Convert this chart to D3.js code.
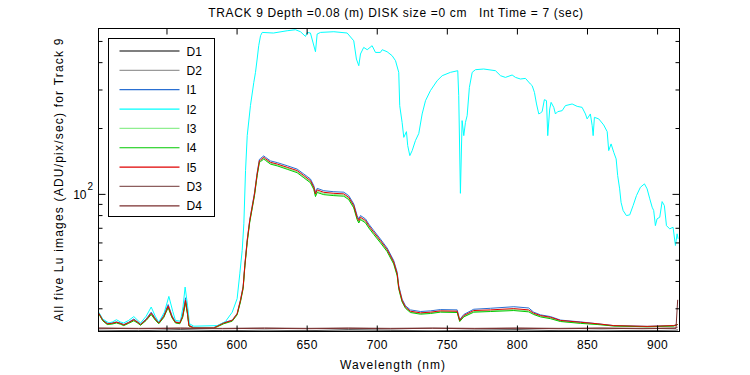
<!DOCTYPE html>
<html>
<head>
<meta charset="utf-8">
<script src="https://cdn.jsdelivr.net/npm/d3@7"></script>
<style>
  body { margin: 0; background: #fff; }
  svg text { font-family: "Liberation Sans", Arial, Helvetica, sans-serif; font-size: 12px; fill: #000; }
  .axis path { display: none; }
  .axis line { stroke: #000; }
</style>
</head>
<body>
<div id="chart"></div>
<script>
// ---- data ----
const seriesNames = ["D1", "D2", "I1", "I2", "I3", "I4", "I5", "D3", "D4"];
const seriesColors = ["#000000", "#999999", "#2a6fd2", "#00ffff", "#90ee90", "#00c800", "#e00000", "#8c5e5e", "#7a2e2e"];

const xTicks = [550, 600, 650, 700, 750, 800, 850, 900];
const yMinorTicks = [30, 40, 50, 60, 70, 80, 90, 200, 300, 400, 500];
const yMajorTicks = [100];

// dark frames (flat, near the floor)
const darkWl = [501.7, 530, 560, 590, 620, 650, 680, 710, 740, 770, 800, 830, 860, 890, 913.5, 914.7];
const D1 = [23.8, 23.7, 23.9, 23.7, 23.8, 23.7, 23.9, 23.8, 23.7, 23.8, 23.9, 23.7, 23.8, 23.7, 23.8, 23.9];
const D2 = [23.7, 23.6, 23.7, 23.6, 23.7, 23.6, 23.7, 23.6, 23.7, 23.6, 23.7, 23.6, 23.7, 23.6, 23.7, 23.8];
const D3 = [24.4, 24.3, 24.4, 24.3, 24.4, 24.3, 24.4, 24.3, 24.4, 24.3, 24.4, 24.3, 24.4, 24.3, 24.4, 24.6];
const D4 = [24.3, 24.2, 24.3, 24.2, 24.3, 24.2, 24.3, 24.2, 24.3, 24.2, 24.3, 24.2, 24.3, 24.2, 24.3, 32.8];

// bright image I2 (cyan)
const wlI2 = [501.7, 504.5, 508.9, 511.5, 514.3, 517, 519.5, 523, 526.7, 529, 531.5, 535.5, 539.1, 542, 544.5,
  548.5, 551.7, 554.5, 556.4, 560, 561.8, 563.3, 565, 566.4, 569.5,
  586.2, 592.1, 596.9, 600.4, 602.3, 604, 605.2, 606.4, 607.6, 609.9, 612.3, 613.5, 614.7, 615.8, 617.1, 618.3,
  626.3, 636.1, 642, 645.6, 649.2, 650.4, 652.7, 656.3, 657.5, 659.9, 669.4, 678.9, 683.6, 685.5, 687.2, 688.4,
  690.7, 693.2, 696.7, 699.1, 702.6, 703.9, 707.4, 711, 713.4, 715.7, 716.4, 718.1, 719.3, 721.2, 722.1, 723.6,
  725.3, 727.6, 730, 732.4, 734.8, 738.3, 743.1, 746.7, 752.6, 757.8, 758.5, 759.7, 760.9, 762.1, 763.3, 764.5,
  766.1, 768.1, 770.4, 776.3, 784.7, 788.3, 791.8, 796.6, 799, 802.5, 806.1, 809.6, 810.9, 812.5, 814, 815.6,
  816.8, 818, 819.6, 821.1, 822, 823.4, 824.4, 826.3, 827.5, 829.1, 832.3, 834.6, 839.4, 843, 846.5, 848.9,
  850.1, 852.4, 853.7, 854.4, 855.3, 858.4, 861.9, 864.4, 865.5, 867.2, 869.1, 870.8, 871.9, 873.3, 874.3,
  875.8, 878.1, 880.5, 882.9, 885.3, 888.1, 891, 892.9, 894.8, 896.5, 897.6, 898.8, 900.0, 901.9, 903.6,
  905.2, 906.7, 909, 911.4, 913.1, 914.3, 915];
const I2 = [28.8, 26.8, 25.7, 26.0, 26.6, 26.0, 25.7, 26.4, 27.5, 26.6, 25.7, 27.6, 30.4, 27.6, 25.9,
  28.8, 34.0, 29.0, 26.4, 26.2, 30.5, 37.5, 31.0, 25.5, 24.85,
  25.0, 26.1, 28.8, 33.2, 43.1, 55.1, 73.0, 127.8, 184.6, 253.1, 323.3, 359.3, 413.4, 475.6, 528.4, 547,
  543.5, 556.7, 562.6, 551, 524.3, 547, 543.5, 446.4, 537.8, 547, 551, 543.5, 501, 413.4, 385.3, 435.8,
  467.1, 456, 475.6, 443.1, 443.1, 456, 446.4, 428, 406.1, 359.3, 253.1, 212.3, 181.3, 192.5, 166.2, 149.6,
  157.7, 175.2, 188.8, 231.9, 266.7, 296.3, 329.1, 346.9, 359.3, 365.6, 281.1, 100.6, 216.2, 184.6, 212.3, 227.8,
  306.8, 359.3, 369.5, 372.2, 365.6, 346.9, 340.7, 349.4, 340.7, 335, 337.2, 317.9, 312.3, 291, 257.6, 231.9,
  234.3, 237.6, 269.6, 266.7, 184.6, 244.4, 262, 248.6, 231.9, 237.6, 240.1, 253.1, 257.6, 251.2, 248.6, 231.9,
  220.1, 231.9, 205.1, 184.6, 223.8, 220.1, 206.6, 192.5, 157.7, 169.2, 154.9, 144.5, 121.2, 105.4, 91.5,
  83.9, 79.6, 80.2, 88.4, 98.2, 107.2, 111.1, 105.4, 94.9, 86.9, 83.9, 71.6, 76.9, 78.2, 92.2,
  88.4, 71.6, 69.2, 70.4, 58.1, 65.7, 62.3];

// the four lower images (I1, I3, I4, I5 nearly on top of each other)
const wlLow = [501.7, 504.5, 507.7, 511, 514.3, 517, 519.5, 523, 526.7, 529, 531.5, 535.5, 539.1, 542, 544.5,
  548, 551.2, 554, 556.4, 559.5, 561.5, 563.6, 565, 566, 569.5,
  583.8, 590.9, 596.9, 600.4, 602.8, 604.7, 605.9, 607.6, 609.4, 611.1, 612.8, 614.7, 616.3, 617.1, 619.4,
  620.6, 624.2, 629, 636.1, 643.2, 648, 652.7, 655.1, 656.3, 657.5, 662.2, 669.4, 676.5, 680, 683.6, 686,
  687.2, 688.4, 692, 694.3, 697.9, 702.6, 707.4, 712.1, 714.6, 715.7, 716.9, 718.1, 720.5, 724, 731.2, 738.3,
  745.4, 757.4, 759.2, 762.1, 769.2, 781.1, 797.8, 808.4, 812, 816.8, 823.9, 831.1, 845.3, 857.2, 869.1,
  892.9, 911.9, 914.7];
const I1 = [28.6, 26.6, 25.6, 25.7, 26.0, 25.7, 25.3, 25.9, 26.8, 26.1, 25.4, 26.8, 28.8, 27.0, 25.8,
  27.8, 31.2, 27.7, 26.0, 25.8, 27.9, 33.5, 28.9, 25.1, 24.5,
  24.5, 25.8, 26.5, 28.4, 32.8, 37.8, 47.5, 61.8, 76.2, 87.8, 101.2, 125, 143.8, 145.2, 149.2,
  147, 141.5, 139, 134.5, 129.8, 123.2, 117, 109, 101.5, 106, 103.4, 102.3, 101.8, 98.2, 90, 79.6,
  76.8, 79.6, 76.8, 72.8, 68, 62.2, 56.6, 49.6, 43.8, 38.1, 35.4, 33.0, 30.8, 29.5, 29.0, 29.2,
  29.6, 29.5, 26.6, 28.1, 29.7, 30.0, 30.5, 30.1, 28.8, 28.0, 27.5, 26.5, 26.0, 25.5, 25.0,
  24.8, 25.0, 25.3];
const I3 = [28.4, 26.4, 25.4, 25.5, 25.8, 25.5, 25.1, 25.7, 26.5, 25.9, 25.2, 26.5, 28.3, 26.6, 25.6,
  27.3, 30.5, 27.2, 25.8, 25.6, 27.3, 32.2, 28.3, 25.0, 24.4,
  24.4, 25.6, 26.3, 28.2, 32.4, 37.2, 46.7, 60.6, 74.8, 86.1, 99.2, 122.3, 140.6, 141.8, 145.6,
  143.6, 138.1, 135.6, 131, 126.4, 119.8, 113.7, 106, 98.6, 102.9, 100.4, 99.4, 98.8, 95.3, 87.3, 77.2,
  74.5, 77.2, 74.6, 70.7, 66, 60.5, 55.1, 48.3, 42.6, 37.1, 34.6, 32.3, 30.2, 28.9, 28.4, 28.6,
  29.0, 28.9, 26.2, 27.6, 29.0, 29.2, 29.6, 29.2, 28.3, 27.6, 27.1, 26.2, 25.7, 25.4, 24.9,
  24.7, 24.9, 25.3];
const I4 = [28.3, 26.3, 25.3, 25.4, 25.7, 25.4, 25.0, 25.6, 26.3, 25.8, 25.1, 26.4, 28.1, 26.5, 25.5,
  27.2, 30.2, 27.1, 25.7, 25.5, 27.2, 31.8, 28.1, 24.9, 24.3,
  24.3, 25.5, 26.2, 28.0, 32.1, 36.9, 46.3, 60.1, 74.2, 85.4, 98.3, 121.2, 139.3, 140.5, 144.2,
  142.3, 136.8, 134.3, 129.6, 125, 118.5, 112.4, 104.8, 97.2, 101.5, 99.2, 98.2, 97.6, 94.2, 86.3, 76.3,
  73.6, 76.3, 73.7, 69.9, 65.2, 59.8, 54.5, 47.8, 42.2, 36.8, 34.3, 32.1, 30.0, 28.7, 28.2, 28.4,
  28.8, 28.7, 26.1, 27.4, 28.8, 29.0, 29.3, 28.9, 28.1, 27.4, 26.9, 26.1, 25.6, 25.3, 24.9,
  24.7, 24.9, 25.3];
const I5 = [28.5, 26.5, 25.5, 25.6, 25.9, 25.6, 25.2, 25.8, 26.6, 26.0, 25.3, 26.6, 28.5, 26.8, 25.7,
  27.5, 30.7, 27.4, 25.9, 25.7, 27.5, 32.6, 28.5, 25.0, 24.4,
  24.4, 25.7, 26.4, 28.3, 32.6, 37.5, 47.1, 61.2, 75.5, 86.9, 100, 123.4, 141.9, 143, 146.9,
  144.9, 139.4, 136.9, 132.3, 127.8, 121.2, 115, 107.2, 100, 104.3, 101.7, 100.6, 100, 96.5, 88.4, 78.2,
  75.5, 78.2, 75.5, 71.6, 66.8, 61.2, 55.7, 48.8, 43.1, 37.5, 34.9, 32.6, 30.4, 29.1, 28.6, 28.8,
  29.2, 29.1, 26.4, 27.8, 29.3, 29.5, 29.9, 29.5, 28.5, 27.8, 27.3, 26.4, 25.9, 25.5, 25.0,
  24.8, 25.0, 25.3];

const seriesData = [
  { wl: darkWl, v: D1 }, { wl: darkWl, v: D2 }, { wl: wlLow, v: I1 }, { wl: wlI2, v: I2 },
  { wl: wlLow, v: I3 }, { wl: wlLow, v: I4 }, { wl: wlLow, v: I5 }, { wl: darkWl, v: D3 }, { wl: darkWl, v: D4 }
];

// ---- layout ----
const W = 750, H = 375;
const margin = { top: 28, right: 71, bottom: 44, left: 98 };
const width = W - margin.left - margin.right;
const height = H - margin.top - margin.bottom;

const svg = d3.select("#chart").append("svg")
  .attr("width", W)
  .attr("height", H);

svg.append("rect").attr("width", W).attr("height", H).attr("fill", "#fff");

const g = svg.append("g")
  .attr("transform", `translate(${margin.left + 0.5},${margin.top + 0.5})`);

const x = d3.scaleLinear().domain([501.5, 916]).range([0, width]);
const y = d3.scaleLog().domain([23.5, 570]).range([height, 0]);

g.append("clipPath").attr("id", "clip")
  .append("rect").attr("width", width).attr("height", height);

// lines
const line = d3.line()
  .x(d => x(d[0]))
  .y(d => y(d[1]));

const lines = g.append("g").attr("clip-path", "url(#clip)");
seriesData.forEach((s, i) => {
  const pts = s.wl.map((w, j) => [w, s.v[j]]);
  lines.append("path")
    .datum(pts)
    .attr("d", line)
    .attr("fill", "none")
    .attr("stroke", seriesColors[i])
    .attr("stroke-width", 1);
});

// axes (ticks pointing inward)
g.append("g").attr("class", "axis")
  .attr("transform", `translate(0,${height})`)
  .call(d3.axisBottom(x).tickValues(xTicks).tickSizeInner(-6).tickSizeOuter(0).tickPadding(9).tickFormat(d3.format("d")));

g.append("g").attr("class", "axis")
  .call(d3.axisTop(x).tickValues(xTicks).tickSizeInner(-6).tickSizeOuter(0).tickFormat(""));

g.append("g").attr("class", "axis")
  .call(d3.axisLeft(y).tickValues(yMinorTicks).tickSizeInner(-4).tickSizeOuter(0).tickFormat(""));
g.append("g").attr("class", "axis")
  .call(d3.axisLeft(y).tickValues(yMajorTicks).tickSizeInner(-7).tickSizeOuter(0).tickFormat(""));
g.append("g").attr("class", "axis")
  .attr("transform", `translate(${width},0)`)
  .call(d3.axisRight(y).tickValues(yMinorTicks).tickSizeInner(-4).tickSizeOuter(0).tickFormat(""));
g.append("g").attr("class", "axis")
  .attr("transform", `translate(${width},0)`)
  .call(d3.axisRight(y).tickValues(yMajorTicks).tickSizeInner(-7).tickSizeOuter(0).tickFormat(""));

g.selectAll(".axis text").style("font-size", "12px").style("letter-spacing", "0.4px");

// 10^2 label
yMajorTicks.forEach(t => {
  g.append("text")
    .attr("x", -12)
    .attr("y", y(t) + 5)
    .attr("text-anchor", "end")
    .text("10");
  g.append("text")
    .attr("x", -11)
    .attr("y", y(t) - 4)
    .style("font-size", "10px")
    .text(Math.log10(t));
});

// frame
g.append("rect")
  .attr("width", width)
  .attr("height", height)
  .attr("fill", "none")
  .attr("stroke", "#000");

// titles
svg.append("text")
  .attr("x", 396)
  .attr("y", 17)
  .attr("text-anchor", "middle")
  .style("white-space", "pre")
  .style("letter-spacing", "0.65px")
  .text("TRACK 9 Depth =0.08 (m) DISK size =0 cm   Int Time = 7 (sec)");

svg.append("text")
  .attr("x", 393)
  .attr("y", 369)
  .attr("text-anchor", "middle")
  .style("letter-spacing", "1px")
  .text("Wavelength (nm)");

svg.append("text")
  .attr("transform", `translate(63,${margin.top + height / 2}) rotate(-90)`)
  .attr("text-anchor", "middle")
  .style("letter-spacing", "1.2px")
  .text("All five Lu images (ADU/pix/sec) for Track 9");

// legend
const legend = svg.append("g").attr("transform", "translate(108.5,38.5)");
legend.append("rect")
  .attr("width", 106)
  .attr("height", 178)
  .attr("fill", "#fff")
  .attr("stroke", "#000");

seriesNames.forEach((name, i) => {
  const ly = 12.5 + i * 19.35;
  legend.append("line")
    .attr("x1", 11).attr("x2", 71)
    .attr("y1", ly).attr("y2", ly)
    .attr("stroke", seriesColors[i])
    .attr("stroke-width", 1.2);
  legend.append("text")
    .attr("x", 78)
    .attr("y", ly + 4.5)
    .text(name);
});
</script>
</body>
</html>
